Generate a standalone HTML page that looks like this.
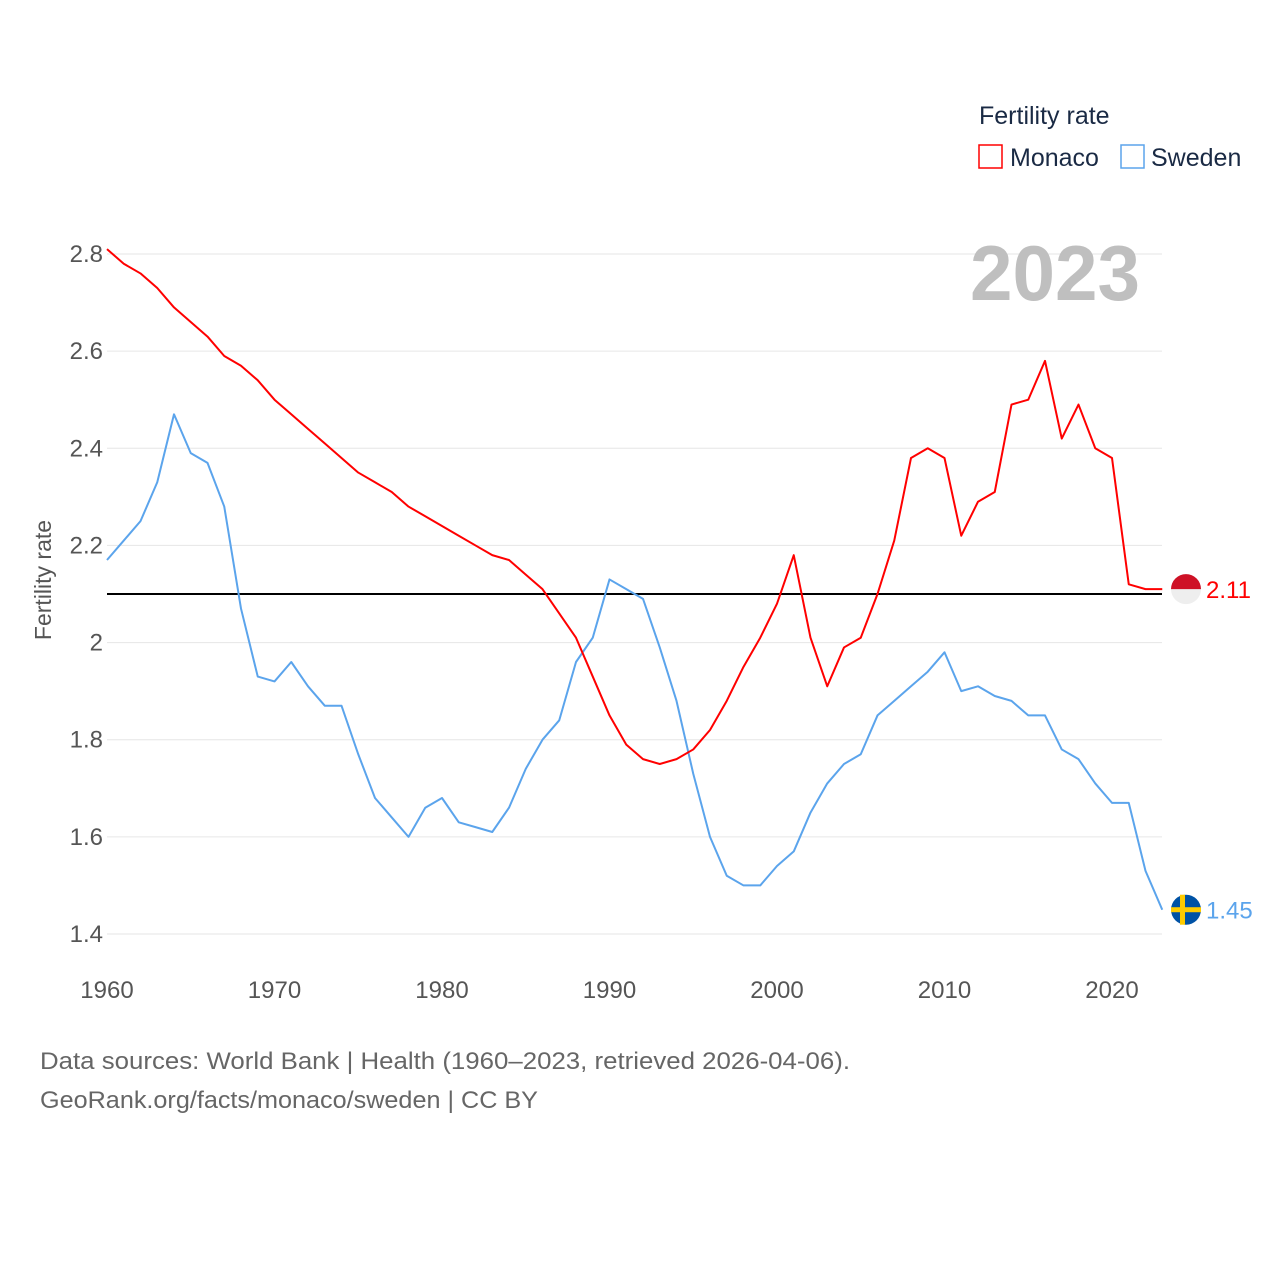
<!DOCTYPE html>
<html><head><meta charset="utf-8"><style>
body{margin:0;background:#fff;font-family:"Liberation Sans",sans-serif;}
svg text{font-family:"Liberation Sans",sans-serif;}
</style></head><body>
<svg id="c" width="1280" height="1280" xmlns="http://www.w3.org/2000/svg">
<text x="979" y="124" font-size="25" fill="#1a2a44">Fertility rate</text>
<g><rect x="979" y="145" width="23" height="23" fill="none" stroke="#f00" stroke-width="1.5"/><text x="1010" y="166" font-size="25" fill="#1a2a44">Monaco</text></g>
<g><rect x="1121" y="145" width="23" height="23" fill="none" stroke="#5ba4ec" stroke-width="1.5"/><text x="1151" y="166" font-size="25" fill="#1a2a44">Sweden</text></g>
<g id="grid"></g>
<text x="1140" y="300" font-size="78" font-weight="bold" fill="#bfbfbf" text-anchor="end" textLength="170" lengthAdjust="spacingAndGlyphs">2023</text>
<text transform="translate(51,580) rotate(-90)" font-size="23" fill="#555" text-anchor="middle">Fertility rate</text>
<g id="marks"></g>
<text x="40" y="1069" font-size="24" fill="#666" textLength="810" lengthAdjust="spacingAndGlyphs">Data sources: World Bank | Health (1960–2023, retrieved 2026-04-06).</text>
<text x="40" y="1108" font-size="24" fill="#666" textLength="498" lengthAdjust="spacingAndGlyphs">GeoRank.org/facts/monaco/sweden | CC BY</text>
</svg>
<script>
const years=[];for(let y=1960;y<=2023;y++)years.push(y);
const monaco=[2.81,2.78,2.76,2.73,2.69,2.66,2.63,2.59,2.57,2.54,2.50,2.47,2.44,2.41,2.38,2.35,2.33,2.31,2.28,2.26,2.24,2.22,2.20,2.18,2.17,2.14,2.11,2.06,2.01,1.93,1.85,1.79,1.76,1.75,1.76,1.78,1.82,1.88,1.95,2.01,2.08,2.18,2.01,1.91,1.99,2.01,2.10,2.21,2.38,2.40,2.38,2.22,2.29,2.31,2.49,2.50,2.58,2.42,2.49,2.40,2.38,2.12,2.11,2.11];
const sweden=[2.17,2.21,2.25,2.33,2.47,2.39,2.37,2.28,2.07,1.93,1.92,1.96,1.91,1.87,1.87,1.77,1.68,1.64,1.60,1.66,1.68,1.63,1.62,1.61,1.66,1.74,1.80,1.84,1.96,2.01,2.13,2.11,2.09,1.99,1.88,1.73,1.60,1.52,1.50,1.50,1.54,1.57,1.65,1.71,1.75,1.77,1.85,1.88,1.91,1.94,1.98,1.90,1.91,1.89,1.88,1.85,1.85,1.78,1.76,1.71,1.67,1.67,1.53,1.45];
const yTicks=[1.4,1.6,1.8,2.0,2.2,2.4,2.6,2.8];
const yTickLabels=["1.4","1.6","1.8","2","2.2","2.4","2.6","2.8"];
const xTicks=[1960,1970,1980,1990,2000,2010,2020];
const refValue=2.1;
const X=y=>107+(y-1960)*16.75;
const Y=v=>934-(v-1.4)/1.4*680;
const NS="http://www.w3.org/2000/svg";
function el(t,a,p){const e=document.createElementNS(NS,t);for(const k in a)e.setAttribute(k,a[k]);p.appendChild(e);return e;}
const g=document.getElementById('grid'),m=document.getElementById('marks');
yTicks.forEach((v,i)=>{
 const l=el('line',{x1:107,x2:1162,y1:Y(v),y2:Y(v),stroke:'#e6e6e6','stroke-width':1},g);
 
 
 const t=el('text',{x:103,y:Y(v)+8,'font-size':24,fill:'#555','text-anchor':'end'},g);t.textContent=yTickLabels[i];
 
 
});
xTicks.forEach(v=>{
 const t=el('text',{x:X(v),y:998,'font-size':24,fill:'#555','text-anchor':'middle'},g);t.textContent=v;
 
 
});
const ref=el('line',{x1:107,x2:1162,y1:Y(refValue),y2:Y(refValue),stroke:'#000','stroke-width':2},m);


function series(vals,color,name){
 const p=el('polyline',{points:vals.map((v,i)=>X(years[i])+','+Y(v)).join(' '),fill:'none',stroke:color,'stroke-width':2,'stroke-linejoin':'round'},m);
 
 
}
series(sweden,'#5ba4ec','sweden');
series(monaco,'#f00','monaco');
const lm=monaco[monaco.length-1],ls=sweden[sweden.length-1],cx=1186;
const fm=el('g',{},m);


el('circle',{cx:cx,cy:Y(lm),r:15,fill:'#eee'},fm);
el('path',{d:`M${cx-15},${Y(lm)} A15,15 0 0 1 ${cx+15},${Y(lm)} Z`,fill:'#ce1126'},fm);
const tm=el('text',{x:1206,y:Y(lm)+9,'font-size':24,fill:'#f00'},m);tm.textContent=lm.toFixed(2);


const fs=el('g',{},m);


el('circle',{cx:cx,cy:Y(ls),r:15,fill:'#0052a5'},fs);
el('rect',{x:cx-6,y:Y(ls)-15,width:5,height:30,fill:'#fecb00'},fs);
el('rect',{x:cx-15,y:Y(ls)-2.5,width:30,height:5,fill:'#fecb00'},fs);
const ts=el('text',{x:1206,y:Y(ls)+9,'font-size':24,fill:'#5ba4ec'},m);ts.textContent=ls.toFixed(2);


</script>
</body></html>
